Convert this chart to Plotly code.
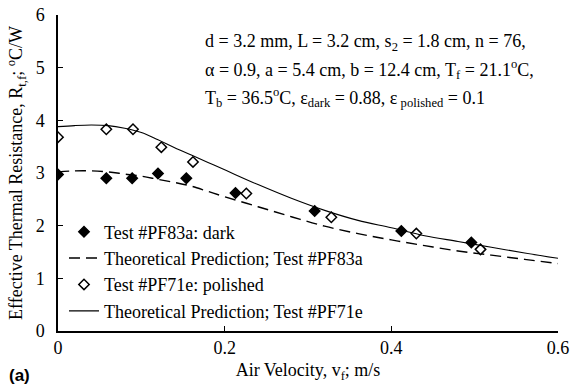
import plotly.graph_objects as go

# Measured data
dark_v = [0.0, 0.058, 0.089, 0.120, 0.154, 0.213, 0.308, 0.412, 0.496]
dark_r = [2.97, 2.90, 2.90, 2.99, 2.90, 2.62, 2.28, 1.90, 1.68]

pol_v = [0.0, 0.058, 0.090, 0.124, 0.162, 0.226, 0.328, 0.430, 0.507]
pol_r = [3.68, 3.83, 3.83, 3.49, 3.21, 2.61, 2.16, 1.85, 1.55]

# Theoretical predictions
theo_v = [0.0, 0.02, 0.04, 0.06, 0.08, 0.10, 0.12, 0.14, 0.16, 0.18, 0.20,
          0.24, 0.28, 0.32, 0.36, 0.40, 0.44, 0.48, 0.52, 0.56, 0.60]
theo_dark = [3.02, 3.04, 3.04, 3.02, 2.98, 2.94, 2.88, 2.82, 2.75, 2.65, 2.55,
             2.36, 2.17, 1.99, 1.85, 1.73, 1.62, 1.52, 1.44, 1.36, 1.28]
theo_pol = [3.88, 3.90, 3.91, 3.90, 3.85, 3.77, 3.63, 3.48, 3.34, 3.20, 3.06,
            2.78, 2.52, 2.29, 2.10, 1.96, 1.81, 1.70, 1.59, 1.48, 1.38]

x_ticks = [0, 0.2, 0.4, 0.6]
y_ticks = [0, 1, 2, 3, 4, 5, 6]

SERIF = "Liberation Serif"
FS = 18

fig = go.Figure()
fig.add_trace(go.Scatter(
    x=dark_v, y=dark_r, mode="markers", name="Test #PF83a: dark",
    legendgroup="a",
    marker=dict(symbol="diamond", size=8, color="black",
                line=dict(color="black", width=1.5))))
fig.add_trace(go.Scatter(
    x=theo_v, y=theo_dark, mode="lines", name="Theoretical Prediction; Test #PF83a",
    legendgroup="b", line=dict(color="black", width=1.4, dash="11px,6px",
                               shape="spline")))
fig.add_trace(go.Scatter(
    x=pol_v, y=pol_r, mode="markers", name="Test #PF71e: polished",
    legendgroup="c",
    marker=dict(symbol="diamond", size=8, color="white",
                line=dict(color="black", width=1.5))))
fig.add_trace(go.Scatter(
    x=theo_v, y=theo_pol, mode="lines", name="Theoretical Prediction; Test #PF71e",
    legendgroup="d", line=dict(color="black", width=1.1, shape="spline")))

fig.update_layout(
    width=571, height=384,
    margin=dict(l=58, r=13, t=15, b=53),
    paper_bgcolor="white", plot_bgcolor="white",
    font=dict(family=SERIF, size=FS, color="black"),
    showlegend=True,
    legend=dict(x=0.012, y=0.372, xanchor="left", yanchor="top",
                bgcolor="rgba(0,0,0,0)", borderwidth=0,
                font=dict(family=SERIF, size=FS, color="black"),
                tracegroupgap=4, traceorder="normal"),
    xaxis=dict(range=[0, 0.6], tickvals=x_ticks, ticktext=[str(v) for v in x_ticks],
               ticks="inside", ticklen=5, tickwidth=1.2, tickcolor="black",
               tickfont=dict(family=SERIF, size=FS, color="black"),
               showline=True, linecolor="black", linewidth=1.5, showgrid=False,
               zeroline=False, mirror=False, automargin=False,
               title=dict(text="Air Velocity, v<sub>f</sub>; m/s",
                          font=dict(family=SERIF, size=FS), standoff=6)),
    yaxis=dict(range=[0, 6], tickvals=y_ticks,
               ticks="inside", ticklen=5, tickwidth=1.2, tickcolor="black",
               tickfont=dict(family=SERIF, size=FS, color="black"),
               ticklabelstandoff=8,
               showline=True, linecolor="black", linewidth=1.5, showgrid=False,
               zeroline=False, mirror=False, automargin=False,
               title=dict(text="Effective Thermal Resistance, R<sub>t,f</sub>; <sup>o</sup>C/W",
                          font=dict(family=SERIF, size=FS), standoff=8)),
)

ann_lines = [
    "d = 3.2 mm, L = 3.2 cm, s<sub>2</sub> = 1.8 cm, n = 76,",
    "α = 0.9, a = 5.4 cm, b = 12.4 cm, T<sub>f</sub> = 21.1<sup>o</sup>C,",
    "T<sub>b</sub> = 36.5<sup>o</sup>C, ε<sub>dark</sub> = 0.88, ε<sub> polished</sub> = 0.1",
]
ann_y = [0.914, 0.826, 0.740]
for txt, yy in zip(ann_lines, ann_y):
    fig.add_annotation(text=txt, xref="paper", yref="paper", x=0.29, y=yy,
                       xanchor="left", yanchor="middle", showarrow=False,
                       align="left", font=dict(family=SERIF, size=FS))

fig.add_annotation(text="<b>(a)</b>", xref="paper", yref="paper",
                   x=-0.102, y=-0.14, xanchor="left", yanchor="middle",
                   showarrow=False,
                   font=dict(family="Liberation Sans", size=17))

fig.write_html("out.html")
